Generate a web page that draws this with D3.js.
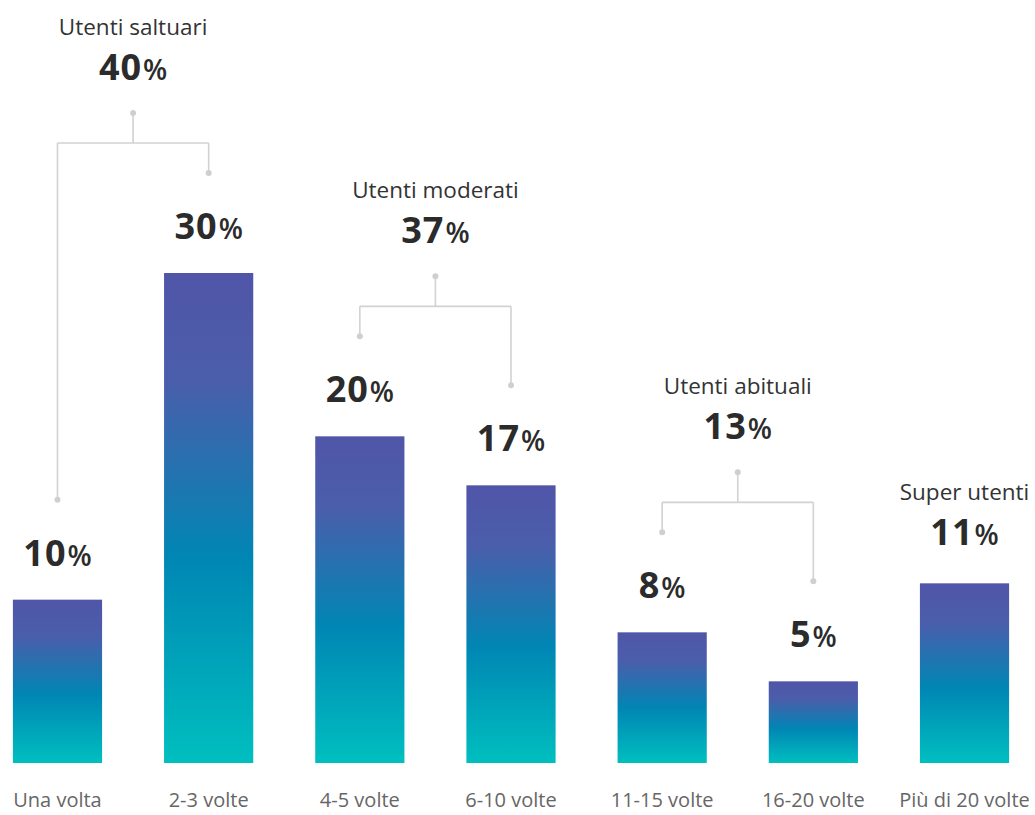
<!DOCTYPE html>
<html>
<head>
<meta charset="utf-8">
<script src="https://cdn.jsdelivr.net/npm/d3@7"></script>
<style>
  body { margin: 0; background: #fff; }
  svg { display: block; font-family: "Open Sans", Lato, sans-serif; }
</style>
</head>
<body>
<svg id="chart"></svg>
<script>
// dati
const categories = ["Una volta", "2-3 volte", "4-5 volte", "6-10 volte", "11-15 volte", "16-20 volte", "Più di 20 volte"];
const values = [10, 30, 20, 17, 8, 5, 11];

const groupNames = ["Utenti saltuari", "Utenti moderati", "Utenti abituali", "Super utenti"];
const groupTotals = [40, 37, 13, 11];
const groupMembers = [
    ["Una volta", "2-3 volte"],
    ["4-5 volte", "6-10 volte"],
    ["11-15 volte", "16-20 volte"],
    ["Più di 20 volte"]
];

const width = 1035, height = 815;
const baseline = 763;

const svg = d3.select("#chart").attr("width", width).attr("height", height);

const x = d3.scaleBand().domain(categories).range([-18.1, 1040.1]).paddingInner(0.41).paddingOuter(0.205);
const y = d3.scaleLinear().domain([0, 30]).range([baseline, 273]);

const data = categories.map((c, i) => ({ cat: c, value: values[i] }));
const byCat = new Map(data.map(d => [d.cat, d]));

// gradiente verticale per ogni barra
const grad = svg.append("defs").append("linearGradient")
    .attr("id", "barGrad").attr("x1", 0).attr("y1", 0).attr("x2", 0).attr("y2", 1);
grad.append("stop").attr("offset", "0%").attr("stop-color", "#5055a8");
grad.append("stop").attr("offset", "22%").attr("stop-color", "#4a5eab");
grad.append("stop").attr("offset", "58%").attr("stop-color", "#0086b4");
grad.append("stop").attr("offset", "100%").attr("stop-color", "#00bfbf");

svg.append("g").selectAll("rect")
    .data(data)
    .join("rect")
    .attr("x", d => x(d.cat))
    .attr("y", d => y(d.value))
    .attr("width", x.bandwidth())
    .attr("height", d => baseline - y(d.value))
    .attr("fill", "url(#barGrad)");

// etichette categorie
svg.append("g").selectAll("text")
    .data(categories)
    .join("text")
    .attr("x", d => x(d) + x.bandwidth() / 2)
    .attr("y", 807)
    .attr("text-anchor", "middle")
    .attr("font-size", 20)
    .attr("fill", "#666")
    .text(d => d);

function pctText(sel, v) {
    sel.append("tspan").attr("font-size", 36).attr("font-weight", 700).attr("letter-spacing", 1).text(v);
    sel.append("tspan").attr("font-size", 28).attr("font-weight", 600).attr("dx", 1).text("%");
}

const cx = c => x(c) + x.bandwidth() / 2;
const gBr = svg.append("g");
const lineCol = "#d2d2d2";

groupNames.forEach((name, gi) => {
    const members = groupMembers[gi];
    let pctY;
    if (members.length > 1) {
        const dots = members.map(c => ({ x: cx(c), y: y(byCat.get(c).value) - 100 }));
        const hY = d3.min(dots, d => d.y) - 30;
        const midX = d3.mean(dots, d => d.x);
        const stemTop = hY - 30;

        const path = d3.path();
        dots.forEach(d => { path.moveTo(d.x, d.y); path.lineTo(d.x, hY); });
        path.moveTo(dots[0].x, hY); path.lineTo(dots[dots.length - 1].x, hY);
        path.moveTo(midX, hY); path.lineTo(midX, stemTop);
        gBr.append("path").attr("d", path.toString())
            .attr("fill", "none").attr("stroke", lineCol).attr("stroke-width", 1.6);
        gBr.selectAll(null).data([...dots, { x: midX, y: stemTop }]).join("circle")
            .attr("cx", d => d.x).attr("cy", d => d.y).attr("r", 3).attr("fill", "#cfcfcf");

        // valori delle singole barre
        members.forEach(c => {
            const d = byCat.get(c);
            svg.append("text")
                .attr("x", cx(c)).attr("y", y(d.value) - 34)
                .attr("text-anchor", "middle").attr("fill", "#2b2b2b")
                .call(pctText, d.value);
        });
        pctY = stemTop - 33;
    } else {
        pctY = y(byCat.get(members[0]).value) - 38;
    }
    const gx = d3.mean(members, cx);
    svg.append("text")
        .attr("x", gx).attr("y", pctY)
        .attr("text-anchor", "middle").attr("fill", "#2b2b2b")
        .call(pctText, groupTotals[gi]);
    svg.append("text")
        .attr("x", gx).attr("y", pctY - 45)
        .attr("text-anchor", "middle").attr("fill", "#333")
        .attr("font-size", 22.5)
        .text(name);
});
</script>
</body>
</html>
